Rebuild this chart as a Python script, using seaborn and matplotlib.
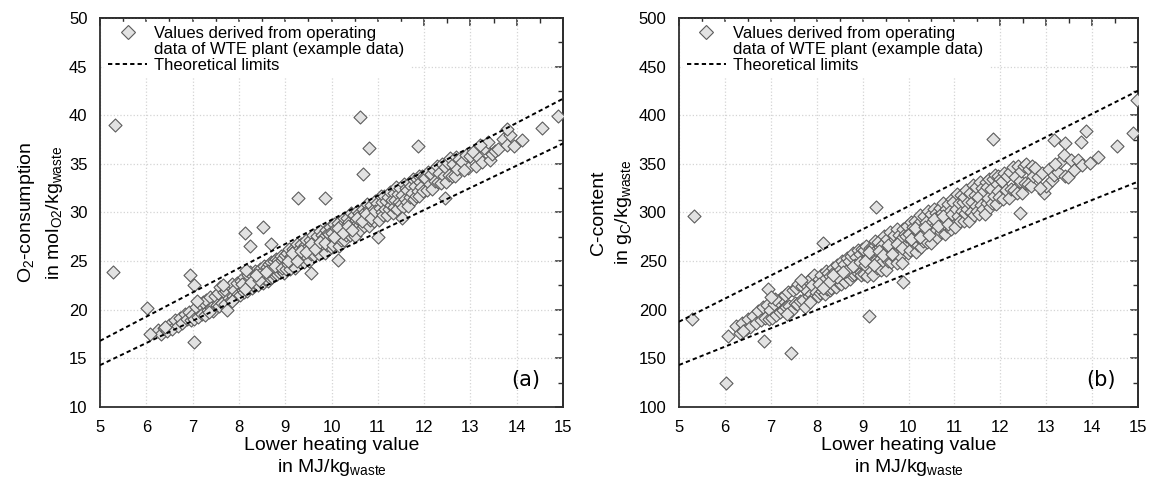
import matplotlib
matplotlib.use("Agg")
import matplotlib.pyplot as plt
from matplotlib.lines import Line2D
from matplotlib.ticker import MultipleLocator
import seaborn as sns
import pandas as pd

# ---- data (LHV in MJ/kg, O2 in mol/kg, C in g/kg) ----
lhv = [
    6.25, 6.32, 6.38, 6.45, 6.5, 6.55, 6.62, 6.68, 6.72, 6.78, 6.83, 6.88, 6.92, 6.96, 6.99, 6.4,
    7.03, 7.08, 7.12, 7.15, 7.2, 7.22, 7.27, 7.3, 7.33, 7.38, 7.4, 7.45, 7.48, 7.52, 7.55, 7.58,
    7.6, 7.63, 7.67, 7.7, 7.72, 7.75, 7.78, 7.8, 7.83, 7.86, 7.88, 7.9, 7.93, 7.95, 7.98, 7.1,
    7.35, 7.65, 7.85,
    8.02, 8.05, 8.08, 8.1, 8.12, 8.15, 8.18, 8.2, 8.22, 8.25, 8.28, 8.3, 8.32, 8.35, 8.38, 8.4,
    8.42, 8.45, 8.48, 8.5, 8.52, 8.55, 8.57, 8.6, 8.62, 8.65, 8.68, 8.7, 8.72, 8.75, 8.77, 8.8,
    8.82, 8.85, 8.87, 8.9, 8.92, 8.95, 8.97, 8.99, 8.06, 8.26, 8.44, 8.63, 8.83, 8.14, 8.36, 8.58,
    8.78, 8.94,
    9.02, 9.04, 9.06, 9.08, 9.1, 9.12, 9.14, 9.16, 9.18, 9.2, 9.22, 9.24, 9.26, 9.28, 9.3, 9.32,
    9.34, 9.36, 9.38, 9.4, 9.42, 9.44, 9.46, 9.48, 9.5, 9.52, 9.54, 9.56, 9.58, 9.6, 9.62, 9.64,
    9.66, 9.68, 9.7, 9.72, 9.74, 9.76, 9.78, 9.8, 9.82, 9.84, 9.86, 9.88, 9.9, 9.92, 9.94, 9.96,
    9.98, 9.99, 9.05, 9.15, 9.25, 9.35, 9.45, 9.55, 9.65, 9.75, 9.85, 9.95,
    10.02, 10.04, 10.06, 10.08, 10.1, 10.12, 10.14, 10.16, 10.18, 10.2, 10.22, 10.24, 10.26,
    10.28, 10.3, 10.32, 10.34, 10.36, 10.38, 10.4, 10.42, 10.44, 10.46, 10.48, 10.5, 10.52,
    10.54, 10.56, 10.58, 10.6, 10.62, 10.64, 10.66, 10.68, 10.7, 10.72, 10.74, 10.76, 10.78,
    10.8, 10.82, 10.84, 10.86, 10.88, 10.9, 10.92, 10.94, 10.96, 10.98, 10.99, 10.05, 10.15,
    10.25, 10.35, 10.45, 10.55, 10.65, 10.75, 10.85, 10.95,
    11.02, 11.04, 11.06, 11.08, 11.1, 11.12, 11.14, 11.16, 11.18, 11.2, 11.22, 11.24, 11.26,
    11.28, 11.3, 11.32, 11.34, 11.36, 11.38, 11.4, 11.42, 11.44, 11.46, 11.48, 11.5, 11.52,
    11.54, 11.56, 11.58, 11.6, 11.62, 11.64, 11.66, 11.68, 11.7, 11.72, 11.74, 11.76, 11.78,
    11.8, 11.82, 11.84, 11.86, 11.88, 11.9, 11.92, 11.94, 11.96, 11.98, 12.0,
    12.03, 12.06, 12.09, 12.12, 12.15, 12.18, 12.21, 12.24, 12.27, 12.3, 12.33, 12.36, 12.39,
    12.42, 12.45, 12.48, 12.51, 12.54, 12.57, 12.6, 12.63, 12.66, 12.69, 12.72, 12.75,
    12.82, 12.9, 12.95, 13.0, 13.06, 13.12, 13.18, 13.25, 13.3, 13.38, 13.42, 13.47, 13.54,
    13.6, 13.7, 13.78, 12.86, 13.2,
]

o2 = [
    17.9, 17.5, 18.1, 17.8, 18.4, 18.0, 18.9, 18.3, 19.2, 18.6, 19.6, 19.0, 19.8, 18.9, 19.5, 18.2,
    19.1, 20.3, 19.3, 20.6, 19.6, 20.8, 19.5, 21.0, 20.0, 21.3, 20.2, 19.9, 21.4, 20.5, 21.7, 20.4,
    22.3, 20.7, 21.8, 20.6, 21.9, 20.0, 21.2, 22.4, 21.0, 22.6, 21.4, 22.0, 21.3, 22.8, 21.6, 20.9,
    19.8, 22.5, 20.9,
    21.5, 23.0, 22.0, 23.4, 21.8, 22.9, 21.9, 23.6, 22.3, 23.9, 22.2, 23.5, 22.4, 24.0, 22.6, 23.8,
    22.5, 24.2, 22.9, 23.9, 22.8, 24.5, 23.2, 24.4, 23.0, 24.7, 23.3, 24.9, 23.4, 25.0, 23.6, 25.2,
    23.7, 25.1, 23.9, 25.5, 24.1, 25.3, 23.8, 25.6, 22.6, 22.9, 23.1, 24.0, 24.6, 22.1, 23.6, 23.9,
    24.5, 24.3,
    24.2, 25.8, 24.7, 26.2, 24.2, 25.5, 25.1, 26.2, 24.7, 26.0, 24.3, 25.6, 26.8, 25.2, 26.2, 24.9,
    26.8, 25.6, 26.3, 24.9, 26.7, 25.5, 27.2, 25.9, 26.5, 25.0, 27.2, 25.7, 26.5, 27.7, 25.6, 27.0,
    26.3, 27.6, 26.0, 26.9, 25.7, 28.1, 26.5, 27.7, 26.2, 27.5, 25.8, 28.2, 26.7, 27.9, 27.1, 28.5,
    26.5, 27.8, 25.0, 25.8, 25.0, 26.0, 25.9, 26.8, 26.2, 27.0, 26.9, 27.8,
    27.9, 26.7, 28.8, 27.5, 28.4, 27.3, 28.9, 26.6, 28.4, 27.2, 28.8, 27.8, 29.4,
    27.2, 28.5, 27.7, 29.4, 28.2, 29.0, 27.7, 29.9, 28.8, 28.1, 29.7, 27.6, 29.2,
    28.8, 30.2, 28.6, 29.9, 28.2, 29.7, 29.1, 30.4, 28.6, 30.0, 29.1, 30.9, 29.8,
    28.6, 30.4, 29.2, 30.8, 29.8, 30.3, 29.1, 31.2, 29.8, 31.0, 29.5, 27.5, 28.4,
    27.9, 28.6, 28.2, 29.4, 29.1, 29.8, 29.4, 30.2,
    29.2, 30.5, 31.7, 30.0, 31.1, 29.7, 31.7, 30.4, 31.2, 29.7, 31.6, 30.4, 32.1,
    30.8, 31.3, 29.9, 32.0, 30.6, 31.3, 32.6, 30.4, 31.9, 31.1, 32.5, 30.9, 31.8,
    30.6, 32.9, 31.4, 32.5, 31.1, 32.3, 30.7, 33.0, 31.6, 32.7, 32.0, 33.4, 31.4,
    32.7, 31.7, 33.4, 32.2, 33.8, 31.7, 33.1, 32.6, 33.8, 32.2, 33.6,
    33.5, 32.3, 34.2, 32.9, 34.0, 32.4, 34.4, 33.2, 34.8, 33.1, 34.1, 33.0, 35.0,
    33.8, 34.7, 33.1, 35.1, 33.9, 35.6, 33.8, 35.0, 33.8, 35.7, 34.5, 35.5,
    35.2, 35.9, 34.6, 35.8, 36.2, 34.8, 35.6, 35.2, 36.6, 37.3, 35.4, 36.0, 36.3,
    36.5, 37.6, 36.9, 34.4, 36.9,
]

carbon = [
    183, 176, 186, 180, 190, 182, 194, 186, 199, 189, 203, 192, 205, 190, 200, 178,
    192, 206, 195, 209, 198, 212, 200, 215, 203, 218, 204, 199, 220, 207, 222, 206,
    226, 209, 224, 210, 228, 203, 219, 230, 214, 232, 216, 225, 212, 236, 218, 211,
    196, 231, 208,
    214, 232, 217, 236, 219, 231, 216, 240, 221, 238, 220, 235, 222, 243, 225, 240,
    223, 246, 228, 241, 226, 250, 231, 247, 229, 253, 234, 250, 232, 255, 236, 258,
    237, 254, 239, 261, 241, 257, 236, 262, 226, 229, 234, 240, 246, 222, 236, 239,
    245, 249,
    237, 261, 246, 266, 235, 254, 253, 263, 240, 263, 236, 258, 271, 250, 261, 243,
    270, 251, 265, 241, 267, 250, 276, 257, 264, 241, 273, 250, 263, 280, 249, 270,
    259, 277, 253, 267, 248, 283, 260, 277, 255, 273, 248, 283, 262, 278, 267, 286,
    258, 276, 250, 259, 246, 260, 256, 267, 257, 268, 264, 276,
    278, 261, 290, 272, 285, 269, 291, 259, 284, 267, 289, 273, 297,
    265, 284, 271, 296, 278, 290, 270, 302, 285, 277, 298, 269, 290,
    284, 304, 281, 299, 275, 296, 287, 305, 280, 299, 286, 310, 296,
    278, 304, 286, 309, 294, 302, 283, 314, 293, 311, 288, 273, 284,
    275, 285, 277, 293, 286, 296, 288, 298,
    285, 304, 319, 296, 310, 291, 318, 302, 311, 291, 316, 299, 323,
    304, 311, 291, 320, 301, 311, 328, 297, 318, 307, 326, 302, 316,
    298, 331, 308, 325, 304, 322, 298, 331, 310, 326, 315, 334, 306,
    324, 310, 334, 317, 339, 309, 329, 322, 338, 316, 334,
    332, 314, 341, 323, 338, 315, 342, 324, 347, 323, 336, 320, 348,
    332, 343, 320, 348, 330, 350, 329, 345, 327, 348, 338, 346,
    336, 341, 320, 327, 345, 333, 339, 342, 352, 359, 338, 337, 354,
    344, 354, 349, 325, 350,
]

# scattered points away from the main band
lhv_out_a = [5.32, 5.29, 6.02, 6.07, 6.94, 7.03, 7.02, 9.28, 9.87, 8.13, 8.23, 8.53, 8.69,
             8.15, 10.61, 10.81, 10.68, 11.87, 14.9, 14.55, 14.12, 13.95, 13.85, 13.78,
             12.45, 9.56, 10.14, 11.0, 11.53]
o2_out = [39.0, 23.9, 20.15, 17.5, 23.6, 22.5, 16.7, 31.5, 31.5, 27.9, 26.6, 28.5, 26.8,
          24.1, 39.85, 36.6, 33.96, 36.8, 39.9, 38.65, 37.5, 36.8, 38.0, 38.55,
          31.45, 23.8, 25.1, 27.5, 29.4]

lhv_out_b = [5.33, 5.29, 6.03, 7.45, 6.85, 9.13, 9.3, 8.14, 6.94, 7.0, 6.07, 9.88, 11.84,
             14.97, 14.9, 14.55, 14.12, 13.95, 13.86, 13.75, 13.18, 13.42, 12.42, 7.2]
c_out = [296.4, 190.2, 125, 155.8, 167.9, 193.6, 306, 268.3, 221, 213.4, 173, 228.9, 375.2,
         415.7, 382, 368.4, 356.8, 351.2, 384.1, 372.8, 374.6, 371, 299.2, 488]

# theoretical limits (straight lines between x = 5 and x = 15)
lim_x = [5, 15]
o2_upper = [16.8, 41.7]
o2_lower = [14.3, 37.1]
c_upper = [187.7, 425.2]
c_lower = [143.2, 331.7]

# ---- style ----
sns.set_style("white")
plt.rcParams["font.family"] = ["Liberation Sans", "DejaVu Sans"]
plt.rcParams["mathtext.fontset"] = "custom"
plt.rcParams["mathtext.rm"] = "Liberation Sans"
plt.rcParams["mathtext.it"] = "Liberation Sans:italic"
plt.rcParams["text.color"] = "black"
plt.rcParams["axes.labelcolor"] = "black"
plt.rcParams["xtick.labelcolor"] = "black"
plt.rcParams["ytick.labelcolor"] = "black"

face = "#e2e2e2"
edge = "#5c5c5c"
spine_col = "#2e2e2e"
dash = (0, (2.2, 1.6))

fig = plt.figure(figsize=(11.53, 4.86), dpi=100)
ax_a = fig.add_axes([100 / 1153, 79 / 486, 463 / 1153, 389 / 486])
ax_b = fig.add_axes([679 / 1153, 79 / 486, 459 / 1153, 389 / 486])

panels = [
    (ax_a, o2, lhv_out_a, o2_out, o2_upper, o2_lower, (10, 50), 5, 2.5, "(a)",
     "O$_2$-consumption\nin mol$_{\\mathrm{O2}}$/kg$_{\\mathrm{waste}}$"),
    (ax_b, carbon, lhv_out_b, c_out, c_upper, c_lower, (100, 500), 50, 25, "(b)",
     "C-content\nin g$_{\\mathrm{C}}$/kg$_{\\mathrm{waste}}$"),
]

for ax, yvals, x_out, y_out, upper, lower, ylim, ymaj, ymin, tag, ylabel in panels:
    df = pd.DataFrame({"lhv": lhv + x_out, "val": yvals + y_out})

    sns.scatterplot(data=df, x="lhv", y="val", marker="D", s=44, color=face,
                    edgecolor=edge, linewidth=0.8, ax=ax, zorder=3)
    sns.lineplot(x=lim_x, y=upper, color="black", linestyle=dash, linewidth=1.4,
                 ax=ax, zorder=4)
    sns.lineplot(x=lim_x, y=lower, color="black", linestyle=dash, linewidth=1.4,
                 ax=ax, zorder=4)

    ax.set_xlim(5, 15)
    ax.set_ylim(*ylim)
    ax.xaxis.set_major_locator(MultipleLocator(1))
    ax.xaxis.set_minor_locator(MultipleLocator(0.5))
    ax.yaxis.set_major_locator(MultipleLocator(ymaj))
    ax.yaxis.set_minor_locator(MultipleLocator(ymin))
    ax.grid(True, which="major", color="#d4d4d4", linestyle=":", linewidth=0.9)
    ax.set_axisbelow(True)

    for sp in ax.spines.values():
        sp.set_color(spine_col)
        sp.set_linewidth(1.3)

    ax.tick_params(which="major", direction="out", length=6, width=1.1,
                   color=spine_col, labelsize=12, pad=3)
    ax.tick_params(which="minor", direction="out", length=3.5, width=1.0,
                   color=spine_col)

    # inward ticks on the top and right edges
    top = ax.secondary_xaxis("top")
    top.xaxis.set_major_locator(MultipleLocator(1))
    top.xaxis.set_minor_locator(MultipleLocator(0.5))
    top.tick_params(which="major", direction="in", length=6, width=1.1,
                    color=spine_col, labeltop=False)
    top.tick_params(which="minor", direction="in", length=3.5, width=1.0,
                    color=spine_col)
    right = ax.secondary_yaxis("right")
    right.yaxis.set_major_locator(MultipleLocator(ymaj))
    right.yaxis.set_minor_locator(MultipleLocator(ymin))
    right.tick_params(which="major", direction="in", length=6, width=1.1,
                      color=spine_col, labelright=False)
    right.tick_params(which="minor", direction="in", length=3.5, width=1.0,
                      color=spine_col)
    for sec in (top, right):
        for sp in sec.spines.values():
            sp.set_color(spine_col)
            sp.set_linewidth(1.3)

    ax.set_xlabel("Lower heating value\nin MJ/kg$_{\\mathrm{waste}}$", fontsize=14,
                  labelpad=2, linespacing=1.2)
    ax.set_ylabel(ylabel, fontsize=14, labelpad=3, linespacing=1.45)

    ax.text(0.92, 0.07, tag, transform=ax.transAxes, fontsize=15, ha="center",
            va="center", family="DejaVu Sans")

    handles = [
        Line2D([], [], marker="D", linestyle="none", markersize=7,
               markerfacecolor=face, markeredgecolor=edge, markeredgewidth=0.8),
        Line2D([], [], linestyle="none"),
        Line2D([], [], color="black", linestyle=dash, linewidth=1.4),
    ]
    labels = ["Values derived from operating", "data of WTE plant (example data)",
              "Theoretical limits"]
    leg = ax.legend(handles, labels, loc="upper left", fontsize=12, frameon=True,
                    framealpha=1, facecolor="white", edgecolor="white",
                    handlelength=2.3, handletextpad=0.45, labelspacing=0.05,
                    borderpad=0.25, borderaxespad=0.25)
    leg.set_zorder(6)

fig.savefig("out.png", dpi=100)
